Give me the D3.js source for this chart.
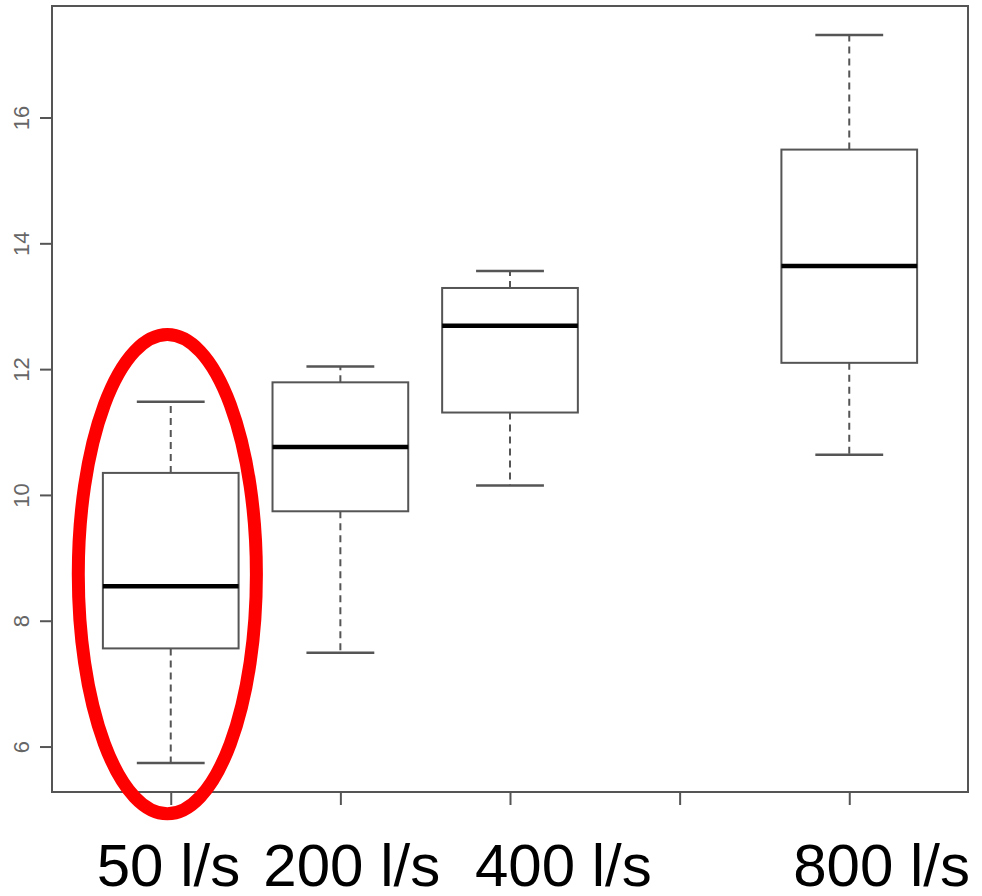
<!DOCTYPE html>
<html><head><meta charset="utf-8">
<script src="https://cdn.jsdelivr.net/npm/d3@7"></script>
<style>body{margin:0;background:#fff}svg{display:block}</style>
</head><body>
<script>
// ---- data ----
const categories = ["50 l/s", "200 l/s", "400 l/s", "800 l/s"];
const positions  = [1, 2, 3, 5];          // group slots on the x axis (slot 4 is empty)
const tickSlots  = [1, 2, 3, 4, 5];
const whiskerLow = [5.74, 7.49, 10.15, 10.64];
const q1         = [7.56, 9.74, 11.31, 12.10];
const medians    = [8.55, 10.76, 12.69, 13.64];
const q3         = [10.35, 11.79, 13.29, 15.49];
const whiskerHigh= [11.48, 12.04, 13.56, 17.31];
const yTicks     = [6, 8, 10, 12, 14, 16];
// highlight ellipse around the first group (data units)
const highlight  = {slot: 0.98, center: 8.74, halfWidth: 0.525, halfHeight: 3.81};
// layout offsets for the large category labels (px, relative to slot)
const labelShift = [-74, -77, -35, -56];

(function () {
// ---- layout ----
const W = 982, H = 896;
const mLeft = 52, mRight = 968, mTop = 6, mBottom = 792;
const svg = d3.select("body").append("svg").attr("width", W).attr("height", H);

const lo = d3.min(whiskerLow), hi = d3.max(whiskerHigh), pad = (hi - lo) * 0.04;
const y = d3.scaleLinear().domain([lo - pad, hi + pad]).range([mBottom, mTop]);
const x = d3.scaleLinear().domain([0.3, 5.7]).range([mLeft, mRight]);

const grey = "#555";

// frame
svg.append("rect").attr("x", mLeft).attr("y", mTop).attr("width", mRight - mLeft).attr("height", mBottom - mTop)
  .attr("fill", "none").attr("stroke", grey).attr("stroke-width", 2);

// y axis
const yAxis = svg.append("g").attr("transform", `translate(${mLeft},0)`)
  .call(d3.axisLeft(y).tickValues(yTicks).tickSize(12).tickFormat(d3.format("d")));
yAxis.select(".domain").remove();
yAxis.selectAll(".tick line").attr("stroke", grey).attr("stroke-width", 2);
yAxis.selectAll(".tick text")
  .attr("font-family", "Liberation Sans, Arial, sans-serif").attr("font-size", 22).attr("fill", "#666")
  .attr("x", null).attr("text-anchor", "middle")
  .attr("transform", "translate(-31,0) rotate(-90)").attr("dy", "0.35em");

// x axis ticks
const xAxis = svg.append("g").attr("transform", `translate(0,${mBottom})`)
  .call(d3.axisBottom(x).tickValues(tickSlots).tickSize(13).tickFormat(""));
xAxis.select(".domain").remove();
xAxis.selectAll(".tick line").attr("stroke", grey).attr("stroke-width", 2);

// boxes
const boxW = 0.8, capW = 0.4;
const g = svg.append("g");
categories.forEach((c, i) => {
  const p = positions[i];
  const gg = g.append("g");
  gg.append("line").attr("x1", x(p)).attr("x2", x(p)).attr("y1", y(q3[i])).attr("y2", y(whiskerHigh[i]))
    .attr("stroke", grey).attr("stroke-width", 2).attr("stroke-dasharray", "7,5");
  gg.append("line").attr("x1", x(p)).attr("x2", x(p)).attr("y1", y(q1[i])).attr("y2", y(whiskerLow[i]))
    .attr("stroke", grey).attr("stroke-width", 2).attr("stroke-dasharray", "7,5");
  [whiskerHigh[i], whiskerLow[i]].forEach(v => {
    gg.append("line").attr("x1", x(p - capW / 2)).attr("x2", x(p + capW / 2)).attr("y1", y(v)).attr("y2", y(v))
      .attr("stroke", grey).attr("stroke-width", 2.5);
  });
  gg.append("rect").attr("x", x(p - boxW / 2)).attr("width", x(p + boxW / 2) - x(p - boxW / 2))
    .attr("y", y(q3[i])).attr("height", y(q1[i]) - y(q3[i]))
    .attr("fill", "none").attr("stroke", grey).attr("stroke-width", 2);
  gg.append("line").attr("x1", x(p - boxW / 2)).attr("x2", x(p + boxW / 2)).attr("y1", y(medians[i])).attr("y2", y(medians[i]))
    .attr("stroke", "#000").attr("stroke-width", 4.5);
  svg.append("text").attr("x", x(p) + labelShift[i]).attr("y", 886)
    .attr("font-family", "Liberation Sans, Arial, sans-serif").attr("font-size", 60).attr("fill", "#000")
    .text(c);
});

// red highlight ellipse
svg.append("ellipse")
  .attr("cx", x(highlight.slot)).attr("cy", y(highlight.center))
  .attr("rx", x(highlight.slot + highlight.halfWidth) - x(highlight.slot))
  .attr("ry", y(highlight.center - highlight.halfHeight) - y(highlight.center))
  .attr("fill", "none").attr("stroke", "#ff0000").attr("stroke-width", 13);
})();
</script>
</body></html>
